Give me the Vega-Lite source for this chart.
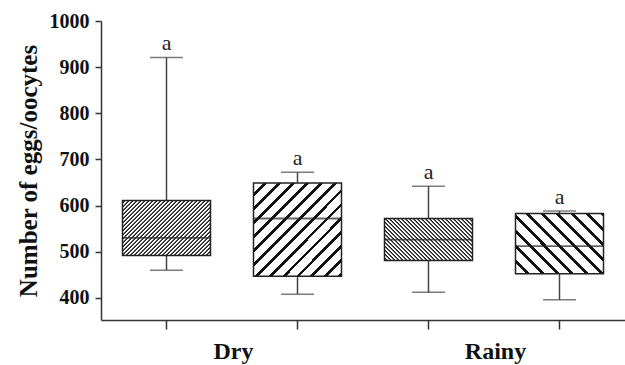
{
  "$schema": "https://vega.github.io/schema/vega-lite/v6.json",
  "width": 524,
  "height": 299,
  "autosize": {"type": "none"},
  "padding": {"left": 101, "top": 21, "right": 0, "bottom": 45},
  "background": "white",
  "config": {
    "view": {"stroke": null},
    "font": "Liberation Serif"
  },
  "data": {
    "values": [
      {"id": "D1", "season": "Dry", "min": 460, "q1": 492, "median": 530, "q3": 611, "max": 921, "label": "a"},
      {"id": "D2", "season": "Dry", "min": 408, "q1": 447, "median": 572, "q3": 649, "max": 672, "label": "a"},
      {"id": "R1", "season": "Rainy", "min": 412, "q1": 481, "median": 526, "q3": 572, "max": 642, "label": "a"},
      {"id": "R2", "season": "Rainy", "min": 396, "q1": 452, "median": 512, "q3": 583, "max": 588, "label": "a"}
    ]
  },
  "encoding": {
    "x": {
      "field": "id",
      "type": "nominal",
      "sort": ["D1", "D2", "R1", "R2"],
      "scale": {"domain": ["D1", "D2", "R1", "R2"], "paddingInner": 0, "paddingOuter": 0},
      "axis": {
        "title": null,
        "labelExpr": "datum.value == 'D1' ? 'Dry' : datum.value == 'R1' ? 'Rainy' : ''",
        "labelOffset": 67,
        "labelAngle": 0,
        "labelAlign": "center",
        "labelOverlap": false,
        "labelFont": "Liberation Serif",
        "labelFontWeight": "bold",
        "labelFontSize": 24,
        "labelColor": "#111",
        "labelPadding": 10,
        "tickSize": 9,
        "tickWidth": 1.5,
        "tickColor": "#333",
        "domainColor": "#333",
        "domainWidth": 1.5,
        "grid": false
      }
    }
  },
  "layer": [
    {
      "mark": {"type": "rule", "color": "#444", "strokeWidth": 1.5},
      "encoding": {
        "y": {
          "field": "min",
          "type": "quantitative",
          "scale": {"domain": [352, 1000], "nice": false, "zero": false},
          "axis": {
            "title": "Number of eggs/oocytes",
            "titleFont": "Liberation Serif",
            "titleFontWeight": "bold",
            "titleFontSize": 25,
            "titleColor": "#111",
            "titlePadding": 8,
            "values": [400, 500, 600, 700, 800, 900, 1000],
            "format": "d",
            "labelFont": "Liberation Serif",
            "labelFontWeight": "bold",
            "labelFontSize": 20,
            "labelColor": "#111",
            "labelPadding": 6,
            "tickSize": 6,
            "tickWidth": 1.5,
            "tickColor": "#333",
            "domainColor": "#333",
            "domainWidth": 1.5,
            "grid": false
          }
        },
        "y2": {"field": "max"}
      }
    },
    {
      "mark": {"type": "tick", "color": "#444", "size": 33, "thickness": 1.5},
      "encoding": {"y": {"field": "min", "type": "quantitative"}}
    },
    {
      "mark": {"type": "tick", "color": "#444", "size": 33, "thickness": 1.5},
      "encoding": {"y": {"field": "max", "type": "quantitative"}}
    },
    {
      "transform": [{"filter": "datum.id == 'D1'"}],
      "mark": {
        "type": "bar", "width": 88, "stroke": "#222", "strokeWidth": 1.5,
        "fill": {"gradient": "linear", "x1": 0, "y1": 0, "x2": 1.1778, "y2": 0.735, "stops": [
          {"offset": 0, "color": "#fff"}, {"offset": 0.0097, "color": "#fff"}, {"offset": 0.0153, "color": "#222"}, {"offset": 0.0222, "color": "#222"},
          {"offset": 0.0278, "color": "#fff"}, {"offset": 0.0375, "color": "#fff"}, {"offset": 0.0431, "color": "#222"}, {"offset": 0.05, "color": "#222"},
          {"offset": 0.0556, "color": "#fff"}, {"offset": 0.0653, "color": "#fff"}, {"offset": 0.0708, "color": "#222"}, {"offset": 0.0778, "color": "#222"},
          {"offset": 0.0833, "color": "#fff"}, {"offset": 0.0931, "color": "#fff"}, {"offset": 0.0986, "color": "#222"}, {"offset": 0.1056, "color": "#222"},
          {"offset": 0.1111, "color": "#fff"}, {"offset": 0.1208, "color": "#fff"}, {"offset": 0.1264, "color": "#222"}, {"offset": 0.1333, "color": "#222"},
          {"offset": 0.1389, "color": "#fff"}, {"offset": 0.1486, "color": "#fff"}, {"offset": 0.1542, "color": "#222"}, {"offset": 0.1611, "color": "#222"},
          {"offset": 0.1667, "color": "#fff"}, {"offset": 0.1764, "color": "#fff"}, {"offset": 0.1819, "color": "#222"}, {"offset": 0.1889, "color": "#222"},
          {"offset": 0.1944, "color": "#fff"}, {"offset": 0.2042, "color": "#fff"}, {"offset": 0.2097, "color": "#222"}, {"offset": 0.2167, "color": "#222"},
          {"offset": 0.2222, "color": "#fff"}, {"offset": 0.2319, "color": "#fff"}, {"offset": 0.2375, "color": "#222"}, {"offset": 0.2444, "color": "#222"},
          {"offset": 0.25, "color": "#fff"}, {"offset": 0.2597, "color": "#fff"}, {"offset": 0.2653, "color": "#222"}, {"offset": 0.2722, "color": "#222"},
          {"offset": 0.2778, "color": "#fff"}, {"offset": 0.2875, "color": "#fff"}, {"offset": 0.2931, "color": "#222"}, {"offset": 0.3, "color": "#222"},
          {"offset": 0.3056, "color": "#fff"}, {"offset": 0.3153, "color": "#fff"}, {"offset": 0.3208, "color": "#222"}, {"offset": 0.3278, "color": "#222"},
          {"offset": 0.3333, "color": "#fff"}, {"offset": 0.3431, "color": "#fff"}, {"offset": 0.3486, "color": "#222"}, {"offset": 0.3556, "color": "#222"},
          {"offset": 0.3611, "color": "#fff"}, {"offset": 0.3708, "color": "#fff"}, {"offset": 0.3764, "color": "#222"}, {"offset": 0.3833, "color": "#222"},
          {"offset": 0.3889, "color": "#fff"}, {"offset": 0.3986, "color": "#fff"}, {"offset": 0.4042, "color": "#222"}, {"offset": 0.4111, "color": "#222"},
          {"offset": 0.4167, "color": "#fff"}, {"offset": 0.4264, "color": "#fff"}, {"offset": 0.4319, "color": "#222"}, {"offset": 0.4389, "color": "#222"},
          {"offset": 0.4444, "color": "#fff"}, {"offset": 0.4542, "color": "#fff"}, {"offset": 0.4597, "color": "#222"}, {"offset": 0.4667, "color": "#222"},
          {"offset": 0.4722, "color": "#fff"}, {"offset": 0.4819, "color": "#fff"}, {"offset": 0.4875, "color": "#222"}, {"offset": 0.4944, "color": "#222"},
          {"offset": 0.5, "color": "#fff"}, {"offset": 0.5097, "color": "#fff"}, {"offset": 0.5153, "color": "#222"}, {"offset": 0.5222, "color": "#222"},
          {"offset": 0.5278, "color": "#fff"}, {"offset": 0.5375, "color": "#fff"}, {"offset": 0.5431, "color": "#222"}, {"offset": 0.55, "color": "#222"},
          {"offset": 0.5556, "color": "#fff"}, {"offset": 0.5653, "color": "#fff"}, {"offset": 0.5708, "color": "#222"}, {"offset": 0.5778, "color": "#222"},
          {"offset": 0.5833, "color": "#fff"}, {"offset": 0.5931, "color": "#fff"}, {"offset": 0.5986, "color": "#222"}, {"offset": 0.6056, "color": "#222"},
          {"offset": 0.6111, "color": "#fff"}, {"offset": 0.6208, "color": "#fff"}, {"offset": 0.6264, "color": "#222"}, {"offset": 0.6333, "color": "#222"},
          {"offset": 0.6389, "color": "#fff"}, {"offset": 0.6486, "color": "#fff"}, {"offset": 0.6542, "color": "#222"}, {"offset": 0.6611, "color": "#222"},
          {"offset": 0.6667, "color": "#fff"}, {"offset": 0.6764, "color": "#fff"}, {"offset": 0.6819, "color": "#222"}, {"offset": 0.6889, "color": "#222"},
          {"offset": 0.6944, "color": "#fff"}, {"offset": 0.7042, "color": "#fff"}, {"offset": 0.7097, "color": "#222"}, {"offset": 0.7167, "color": "#222"},
          {"offset": 0.7222, "color": "#fff"}, {"offset": 0.7319, "color": "#fff"}, {"offset": 0.7375, "color": "#222"}, {"offset": 0.7444, "color": "#222"},
          {"offset": 0.75, "color": "#fff"}, {"offset": 0.7597, "color": "#fff"}, {"offset": 0.7653, "color": "#222"}, {"offset": 0.7722, "color": "#222"},
          {"offset": 0.7778, "color": "#fff"}, {"offset": 0.7875, "color": "#fff"}, {"offset": 0.7931, "color": "#222"}, {"offset": 0.8, "color": "#222"},
          {"offset": 0.8056, "color": "#fff"}, {"offset": 0.8153, "color": "#fff"}, {"offset": 0.8208, "color": "#222"}, {"offset": 0.8278, "color": "#222"},
          {"offset": 0.8333, "color": "#fff"}, {"offset": 0.8431, "color": "#fff"}, {"offset": 0.8486, "color": "#222"}, {"offset": 0.8556, "color": "#222"},
          {"offset": 0.8611, "color": "#fff"}, {"offset": 0.8708, "color": "#fff"}, {"offset": 0.8764, "color": "#222"}, {"offset": 0.8833, "color": "#222"},
          {"offset": 0.8889, "color": "#fff"}, {"offset": 0.8986, "color": "#fff"}, {"offset": 0.9042, "color": "#222"}, {"offset": 0.9111, "color": "#222"},
          {"offset": 0.9167, "color": "#fff"}, {"offset": 0.9264, "color": "#fff"}, {"offset": 0.9319, "color": "#222"}, {"offset": 0.9389, "color": "#222"},
          {"offset": 0.9444, "color": "#fff"}, {"offset": 0.9542, "color": "#fff"}, {"offset": 0.9597, "color": "#222"}, {"offset": 0.9667, "color": "#222"},
          {"offset": 0.9722, "color": "#fff"}, {"offset": 0.9819, "color": "#fff"}, {"offset": 0.9875, "color": "#222"}, {"offset": 0.9944, "color": "#222"},
          {"offset": 1, "color": "#fff"}
        ]}
      },
      "encoding": {
        "y": {"field": "q1", "type": "quantitative"},
        "y2": {"field": "q3"}
      }
    },
    {
      "transform": [{"filter": "datum.id == 'D2'"}],
      "mark": {
        "type": "bar", "width": 88, "stroke": "#222", "strokeWidth": 1.5,
        "fill": {"gradient": "linear", "x1": 0, "y1": 0, "x2": 0.972, "y2": 1.027, "stops": [
          {"offset": 0, "color": "#fff"}, {"offset": 0.0554, "color": "#fff"}, {"offset": 0.0554, "color": "#111"}, {"offset": 0.0769, "color": "#111"},
          {"offset": 0.0769, "color": "#fff"}, {"offset": 0.1323, "color": "#fff"}, {"offset": 0.1323, "color": "#111"}, {"offset": 0.1538, "color": "#111"},
          {"offset": 0.1538, "color": "#fff"}, {"offset": 0.2092, "color": "#fff"}, {"offset": 0.2092, "color": "#111"}, {"offset": 0.2308, "color": "#111"},
          {"offset": 0.2308, "color": "#fff"}, {"offset": 0.2862, "color": "#fff"}, {"offset": 0.2862, "color": "#111"}, {"offset": 0.3077, "color": "#111"},
          {"offset": 0.3077, "color": "#fff"}, {"offset": 0.3631, "color": "#fff"}, {"offset": 0.3631, "color": "#111"}, {"offset": 0.3846, "color": "#111"},
          {"offset": 0.3846, "color": "#fff"}, {"offset": 0.44, "color": "#fff"}, {"offset": 0.44, "color": "#111"}, {"offset": 0.4615, "color": "#111"},
          {"offset": 0.4615, "color": "#fff"}, {"offset": 0.5169, "color": "#fff"}, {"offset": 0.5169, "color": "#111"}, {"offset": 0.5385, "color": "#111"},
          {"offset": 0.5385, "color": "#fff"}, {"offset": 0.5938, "color": "#fff"}, {"offset": 0.5938, "color": "#111"}, {"offset": 0.6154, "color": "#111"},
          {"offset": 0.6154, "color": "#fff"}, {"offset": 0.6708, "color": "#fff"}, {"offset": 0.6708, "color": "#111"}, {"offset": 0.6923, "color": "#111"},
          {"offset": 0.6923, "color": "#fff"}, {"offset": 0.7477, "color": "#fff"}, {"offset": 0.7477, "color": "#111"}, {"offset": 0.7692, "color": "#111"},
          {"offset": 0.7692, "color": "#fff"}, {"offset": 0.8246, "color": "#fff"}, {"offset": 0.8246, "color": "#111"}, {"offset": 0.8462, "color": "#111"},
          {"offset": 0.8462, "color": "#fff"}, {"offset": 0.9015, "color": "#fff"}, {"offset": 0.9015, "color": "#111"}, {"offset": 0.9231, "color": "#111"},
          {"offset": 0.9231, "color": "#fff"}, {"offset": 0.9785, "color": "#fff"}, {"offset": 0.9785, "color": "#111"}, {"offset": 1, "color": "#111"}
        ]}
      },
      "encoding": {
        "y": {"field": "q1", "type": "quantitative"},
        "y2": {"field": "q3"}
      }
    },
    {
      "transform": [{"filter": "datum.id == 'R1'"}],
      "mark": {
        "type": "bar", "width": 88, "stroke": "#222", "strokeWidth": 1.5,
        "fill": {"gradient": "linear", "x1": 0, "y1": 1, "x2": 1.3329, "y2": 0.3639, "stops": [
          {"offset": 0, "color": "#fff"}, {"offset": 0.0097, "color": "#fff"}, {"offset": 0.0153, "color": "#222"}, {"offset": 0.0222, "color": "#222"},
          {"offset": 0.0278, "color": "#fff"}, {"offset": 0.0375, "color": "#fff"}, {"offset": 0.0431, "color": "#222"}, {"offset": 0.05, "color": "#222"},
          {"offset": 0.0556, "color": "#fff"}, {"offset": 0.0653, "color": "#fff"}, {"offset": 0.0708, "color": "#222"}, {"offset": 0.0778, "color": "#222"},
          {"offset": 0.0833, "color": "#fff"}, {"offset": 0.0931, "color": "#fff"}, {"offset": 0.0986, "color": "#222"}, {"offset": 0.1056, "color": "#222"},
          {"offset": 0.1111, "color": "#fff"}, {"offset": 0.1208, "color": "#fff"}, {"offset": 0.1264, "color": "#222"}, {"offset": 0.1333, "color": "#222"},
          {"offset": 0.1389, "color": "#fff"}, {"offset": 0.1486, "color": "#fff"}, {"offset": 0.1542, "color": "#222"}, {"offset": 0.1611, "color": "#222"},
          {"offset": 0.1667, "color": "#fff"}, {"offset": 0.1764, "color": "#fff"}, {"offset": 0.1819, "color": "#222"}, {"offset": 0.1889, "color": "#222"},
          {"offset": 0.1944, "color": "#fff"}, {"offset": 0.2042, "color": "#fff"}, {"offset": 0.2097, "color": "#222"}, {"offset": 0.2167, "color": "#222"},
          {"offset": 0.2222, "color": "#fff"}, {"offset": 0.2319, "color": "#fff"}, {"offset": 0.2375, "color": "#222"}, {"offset": 0.2444, "color": "#222"},
          {"offset": 0.25, "color": "#fff"}, {"offset": 0.2597, "color": "#fff"}, {"offset": 0.2653, "color": "#222"}, {"offset": 0.2722, "color": "#222"},
          {"offset": 0.2778, "color": "#fff"}, {"offset": 0.2875, "color": "#fff"}, {"offset": 0.2931, "color": "#222"}, {"offset": 0.3, "color": "#222"},
          {"offset": 0.3056, "color": "#fff"}, {"offset": 0.3153, "color": "#fff"}, {"offset": 0.3208, "color": "#222"}, {"offset": 0.3278, "color": "#222"},
          {"offset": 0.3333, "color": "#fff"}, {"offset": 0.3431, "color": "#fff"}, {"offset": 0.3486, "color": "#222"}, {"offset": 0.3556, "color": "#222"},
          {"offset": 0.3611, "color": "#fff"}, {"offset": 0.3708, "color": "#fff"}, {"offset": 0.3764, "color": "#222"}, {"offset": 0.3833, "color": "#222"},
          {"offset": 0.3889, "color": "#fff"}, {"offset": 0.3986, "color": "#fff"}, {"offset": 0.4042, "color": "#222"}, {"offset": 0.4111, "color": "#222"},
          {"offset": 0.4167, "color": "#fff"}, {"offset": 0.4264, "color": "#fff"}, {"offset": 0.4319, "color": "#222"}, {"offset": 0.4389, "color": "#222"},
          {"offset": 0.4444, "color": "#fff"}, {"offset": 0.4542, "color": "#fff"}, {"offset": 0.4597, "color": "#222"}, {"offset": 0.4667, "color": "#222"},
          {"offset": 0.4722, "color": "#fff"}, {"offset": 0.4819, "color": "#fff"}, {"offset": 0.4875, "color": "#222"}, {"offset": 0.4944, "color": "#222"},
          {"offset": 0.5, "color": "#fff"}, {"offset": 0.5097, "color": "#fff"}, {"offset": 0.5153, "color": "#222"}, {"offset": 0.5222, "color": "#222"},
          {"offset": 0.5278, "color": "#fff"}, {"offset": 0.5375, "color": "#fff"}, {"offset": 0.5431, "color": "#222"}, {"offset": 0.55, "color": "#222"},
          {"offset": 0.5556, "color": "#fff"}, {"offset": 0.5653, "color": "#fff"}, {"offset": 0.5708, "color": "#222"}, {"offset": 0.5778, "color": "#222"},
          {"offset": 0.5833, "color": "#fff"}, {"offset": 0.5931, "color": "#fff"}, {"offset": 0.5986, "color": "#222"}, {"offset": 0.6056, "color": "#222"},
          {"offset": 0.6111, "color": "#fff"}, {"offset": 0.6208, "color": "#fff"}, {"offset": 0.6264, "color": "#222"}, {"offset": 0.6333, "color": "#222"},
          {"offset": 0.6389, "color": "#fff"}, {"offset": 0.6486, "color": "#fff"}, {"offset": 0.6542, "color": "#222"}, {"offset": 0.6611, "color": "#222"},
          {"offset": 0.6667, "color": "#fff"}, {"offset": 0.6764, "color": "#fff"}, {"offset": 0.6819, "color": "#222"}, {"offset": 0.6889, "color": "#222"},
          {"offset": 0.6944, "color": "#fff"}, {"offset": 0.7042, "color": "#fff"}, {"offset": 0.7097, "color": "#222"}, {"offset": 0.7167, "color": "#222"},
          {"offset": 0.7222, "color": "#fff"}, {"offset": 0.7319, "color": "#fff"}, {"offset": 0.7375, "color": "#222"}, {"offset": 0.7444, "color": "#222"},
          {"offset": 0.75, "color": "#fff"}, {"offset": 0.7597, "color": "#fff"}, {"offset": 0.7653, "color": "#222"}, {"offset": 0.7722, "color": "#222"},
          {"offset": 0.7778, "color": "#fff"}, {"offset": 0.7875, "color": "#fff"}, {"offset": 0.7931, "color": "#222"}, {"offset": 0.8, "color": "#222"},
          {"offset": 0.8056, "color": "#fff"}, {"offset": 0.8153, "color": "#fff"}, {"offset": 0.8208, "color": "#222"}, {"offset": 0.8278, "color": "#222"},
          {"offset": 0.8333, "color": "#fff"}, {"offset": 0.8431, "color": "#fff"}, {"offset": 0.8486, "color": "#222"}, {"offset": 0.8556, "color": "#222"},
          {"offset": 0.8611, "color": "#fff"}, {"offset": 0.8708, "color": "#fff"}, {"offset": 0.8764, "color": "#222"}, {"offset": 0.8833, "color": "#222"},
          {"offset": 0.8889, "color": "#fff"}, {"offset": 0.8986, "color": "#fff"}, {"offset": 0.9042, "color": "#222"}, {"offset": 0.9111, "color": "#222"},
          {"offset": 0.9167, "color": "#fff"}, {"offset": 0.9264, "color": "#fff"}, {"offset": 0.9319, "color": "#222"}, {"offset": 0.9389, "color": "#222"},
          {"offset": 0.9444, "color": "#fff"}, {"offset": 0.9542, "color": "#fff"}, {"offset": 0.9597, "color": "#222"}, {"offset": 0.9667, "color": "#222"},
          {"offset": 0.9722, "color": "#fff"}, {"offset": 0.9819, "color": "#fff"}, {"offset": 0.9875, "color": "#222"}, {"offset": 0.9944, "color": "#222"},
          {"offset": 1, "color": "#fff"}
        ]}
      },
      "encoding": {
        "y": {"field": "q1", "type": "quantitative"},
        "y2": {"field": "q3"}
      }
    },
    {
      "transform": [{"filter": "datum.id == 'R2'"}],
      "mark": {
        "type": "bar", "width": 88, "stroke": "#222", "strokeWidth": 1.5,
        "fill": {"gradient": "linear", "x1": 0, "y1": 1, "x2": 1.146, "y2": 0.214, "stops": [
          {"offset": 0, "color": "#fff"}, {"offset": 0.073, "color": "#fff"}, {"offset": 0.073, "color": "#111"}, {"offset": 0.1, "color": "#111"},
          {"offset": 0.1, "color": "#fff"}, {"offset": 0.173, "color": "#fff"}, {"offset": 0.173, "color": "#111"}, {"offset": 0.2, "color": "#111"},
          {"offset": 0.2, "color": "#fff"}, {"offset": 0.273, "color": "#fff"}, {"offset": 0.273, "color": "#111"}, {"offset": 0.3, "color": "#111"},
          {"offset": 0.3, "color": "#fff"}, {"offset": 0.373, "color": "#fff"}, {"offset": 0.373, "color": "#111"}, {"offset": 0.4, "color": "#111"},
          {"offset": 0.4, "color": "#fff"}, {"offset": 0.473, "color": "#fff"}, {"offset": 0.473, "color": "#111"}, {"offset": 0.5, "color": "#111"},
          {"offset": 0.5, "color": "#fff"}, {"offset": 0.573, "color": "#fff"}, {"offset": 0.573, "color": "#111"}, {"offset": 0.6, "color": "#111"},
          {"offset": 0.6, "color": "#fff"}, {"offset": 0.673, "color": "#fff"}, {"offset": 0.673, "color": "#111"}, {"offset": 0.7, "color": "#111"},
          {"offset": 0.7, "color": "#fff"}, {"offset": 0.773, "color": "#fff"}, {"offset": 0.773, "color": "#111"}, {"offset": 0.8, "color": "#111"},
          {"offset": 0.8, "color": "#fff"}, {"offset": 0.873, "color": "#fff"}, {"offset": 0.873, "color": "#111"}, {"offset": 0.9, "color": "#111"},
          {"offset": 0.9, "color": "#fff"}, {"offset": 0.973, "color": "#fff"}, {"offset": 0.973, "color": "#111"}, {"offset": 1, "color": "#111"}
        ]}
      },
      "encoding": {
        "y": {"field": "q1", "type": "quantitative"},
        "y2": {"field": "q3"}
      }
    },
    {
      "mark": {"type": "tick", "color": "#222", "size": 88, "thickness": 1.8},
      "encoding": {"y": {"field": "median", "type": "quantitative"}}
    },
    {
      "mark": {"type": "text", "font": "Liberation Serif", "fontSize": 22, "color": "#222", "baseline": "alphabetic", "dy": -7},
      "encoding": {
        "y": {"field": "max", "type": "quantitative"},
        "text": {"field": "label"}
      }
    }
  ]
}
